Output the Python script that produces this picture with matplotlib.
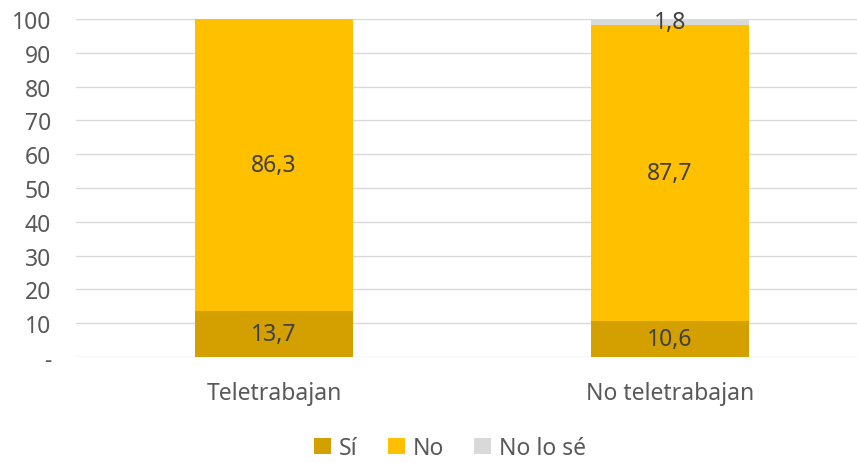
import numpy as np
import matplotlib.pyplot as plt

categories = ["Teletrabajan", "No teletrabajan"]
si = [13.7, 10.6]
no = [86.3, 87.7]
nolose = [0.0, 1.8]
series_names = ["Sí", "No", "No lo sé"]
colors = ["#D4A000", "#FFC000", "#D9D9D9"]
yticks = [0, 10, 20, 30, 40, 50, 60, 70, 80, 90, 100]
yticklabels = ["-", "10", "20", "30", "40", "50", "60", "70", "80", "90", "100"]

plt.rcParams['font.family'] = ['Noto Sans', 'DejaVu Sans']

fig = plt.figure(figsize=(8.57, 4.64), dpi=100)
ax = fig.add_axes([76 / 857, 106 / 464, 781 / 857, 338 / 464])

x = np.arange(len(categories))
width = 0.4
bottom = np.zeros(len(categories))
for vals, name, col in zip([si, no, nolose], series_names, colors):
    vals = np.array(vals)
    ax.bar(x, vals, width, bottom=bottom, color=col, label=name, zorder=3)
    for xi, v, b in zip(x, vals, bottom):
        if v > 0:
            ax.text(xi, b + v / 2, ("%.1f" % v).replace(".", ","), ha="center",
                    va="center", fontsize=16.5, color="#404040", zorder=4)
    bottom += vals

ax.set_xlim(-0.5, -0.5 + 781 / 396)
ax.set_ylim(0, 100)
ax.set_yticks(yticks)
ax.set_yticklabels(yticklabels)
ax.set_xticks(x)
ax.set_xticklabels(categories)
ax.tick_params(axis="both", length=0, labelsize=16.5, labelcolor="#595959")
ax.tick_params(axis="y", pad=18)
ax.tick_params(axis="x", pad=17)
for lab in ax.get_yticklabels():
    lab.set_horizontalalignment("right")
ax.grid(axis="y", color="#D9D9D9", linewidth=1, zorder=0)
for s in ax.spines.values():
    s.set_visible(False)

leg = fig.legend(loc="center", bbox_to_anchor=(450 / 857, 1 - 449 / 464), ncol=3,
                 frameon=False, fontsize=16.5, handlelength=0.75, handleheight=0.75,
                 handletextpad=0.35, columnspacing=1.3, labelcolor="#595959")

fig.savefig("out.png", dpi=100)
